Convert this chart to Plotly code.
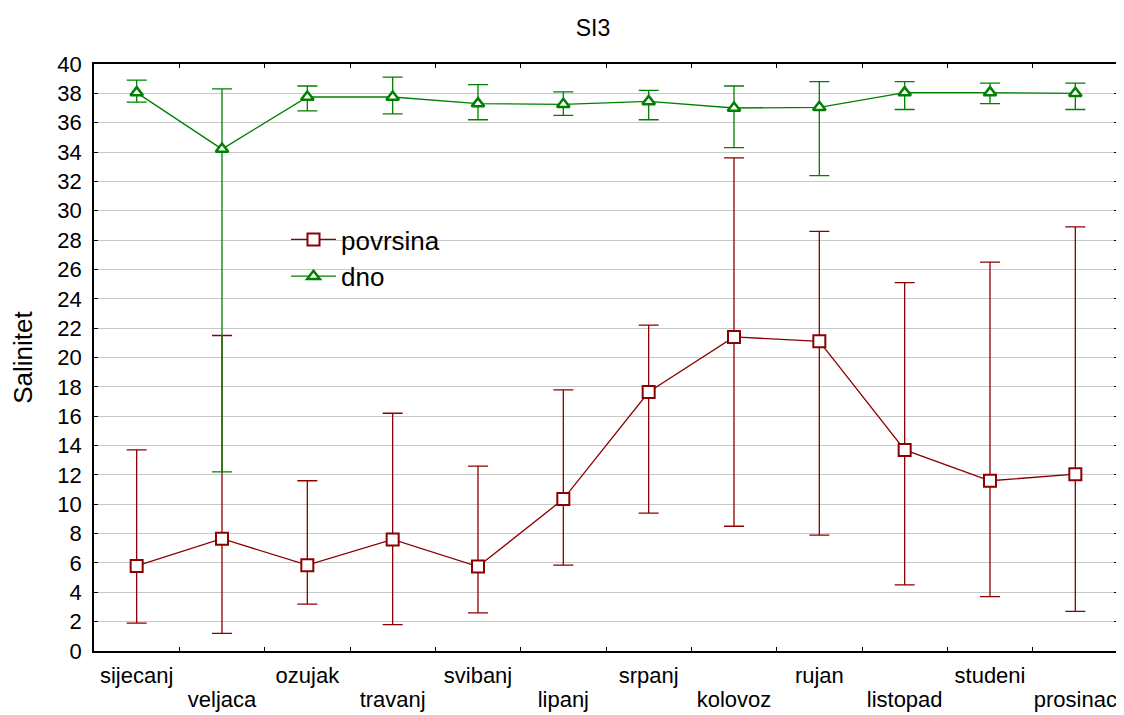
import plotly.graph_objects as go

months = ["sijecanj", "veljaca", "ozujak", "travanj", "svibanj", "lipanj",
          "srpanj", "kolovoz", "rujan", "listopad", "studeni", "prosinac"]

povrsina_mean = [5.8, 7.65, 5.85, 7.6, 5.75, 10.35, 17.65, 21.4, 21.1, 13.7, 11.6, 12.05]
povrsina_upper = [13.7, 21.5, 11.6, 16.2, 12.6, 17.8, 22.2, 33.6, 28.6, 25.1, 26.5, 28.9]
povrsina_lower = [1.9, 1.2, 3.2, 1.8, 2.6, 5.85, 9.4, 8.5, 7.9, 4.5, 3.7, 2.7]

dno_mean = [38.05, 34.2, 37.75, 37.75, 37.3, 37.25, 37.45, 37.0, 37.05, 38.05, 38.05, 38.0]
dno_upper = [38.9, 38.3, 38.5, 39.1, 38.6, 38.1, 38.2, 38.5, 38.8, 38.8, 38.7, 38.7]
dno_lower = [37.4, 12.2, 36.8, 36.6, 36.2, 36.5, 36.2, 34.3, 32.4, 36.9, 37.3, 36.9]

y_ticks = list(range(0, 41, 2))

RED = "#8B0000"
GREEN = "#008000"

x = list(range(len(months)))
even_x = [i for i in x if i % 2 == 0]
odd_x = [i for i in x if i % 2 == 1]
boundaries = [i + 0.5 for i in range(len(months) - 1)]
xrange = [-0.5, len(months) - 0.5]

# page body has an 8px margin, so the figure is drawn 8px in from the top-left
OFF = 8
W, H = 1124 - OFF, 715 - OFF

fig = go.Figure()
fig.add_trace(go.Scatter(
    x=x, y=povrsina_mean, name="povrsina", mode="lines+markers",
    line=dict(color=RED, width=1.3),
    marker=dict(symbol="square", size=12, color="white", line=dict(color=RED, width=2)),
    error_y=dict(type="data", symmetric=False,
                 array=[u - m for u, m in zip(povrsina_upper, povrsina_mean)],
                 arrayminus=[m - l for m, l in zip(povrsina_mean, povrsina_lower)],
                 color=RED, thickness=1.3, width=10),
))
fig.add_trace(go.Scatter(
    x=x, y=dno_mean, name="dno", mode="lines+markers", xaxis="x2",
    line=dict(color=GREEN, width=1.3),
    marker=dict(symbol="triangle-up", size=11, color="white", line=dict(color=GREEN, width=2.5)),
    error_y=dict(type="data", symmetric=False,
                 array=[u - m for u, m in zip(dno_upper, dno_mean)],
                 arrayminus=[m - l for m, l in zip(dno_mean, dno_lower)],
                 color=GREEN, thickness=1.3, width=10),
))

font_family = "Liberation Sans, Arial, sans-serif"
fig.update_layout(
    width=W, height=H,
    margin=dict(l=94 - OFF, r=6, t=64 - OFF, b=64),
    paper_bgcolor="white", plot_bgcolor="white",
    font=dict(family=font_family, color="black", size=22),
    title=dict(text="SI3", x=(593 - OFF) / W, xref="container",
               y=1 - (28 - OFF) / H, yref="container",
               xanchor="center", yanchor="middle", font=dict(size=23)),
    legend=dict(x=(286 - 94) / 1024, y=1 - (216 - 64) / 587, xanchor="left", yanchor="top",
                bgcolor="rgba(0,0,0,0)", font=dict(size=26), itemwidth=45),
    showlegend=True,
    xaxis=dict(
        range=xrange, tickmode="array", tickvals=even_x,
        ticktext=[months[i] for i in even_x],
        ticks="", showgrid=False, zeroline=False, automargin=False,
        showline=True, linecolor="black", linewidth=1.5, mirror="ticks",
        tickfont=dict(size=22), ticklabelstandoff=4,
        minor=dict(tickmode="array", tickvals=boundaries, ticks="inside", ticklen=4,
                   tickcolor="black", showgrid=False),
    ),
    xaxis2=dict(
        overlaying="x", matches="x", anchor="y", side="bottom",
        range=xrange, tickmode="array", tickvals=odd_x,
        ticktext=[months[i] for i in odd_x],
        ticks="", showgrid=False, zeroline=False, automargin=False, showline=False,
        tickfont=dict(size=22), ticklabelstandoff=33,
    ),
    yaxis=dict(
        range=[0, 40], tickmode="array", tickvals=y_ticks,
        ticks="inside", ticklen=4, tickcolor="black",
        showgrid=True, gridcolor="#c8c8c8", gridwidth=1, zeroline=False,
        showline=True, linecolor="black", linewidth=1.5, mirror="ticks",
        tickfont=dict(size=22), automargin=False, ticklabelstandoff=6,
        title=dict(text="Salinitet", font=dict(size=26), standoff=26),
    ),
)

fig.write_html("out.html")
